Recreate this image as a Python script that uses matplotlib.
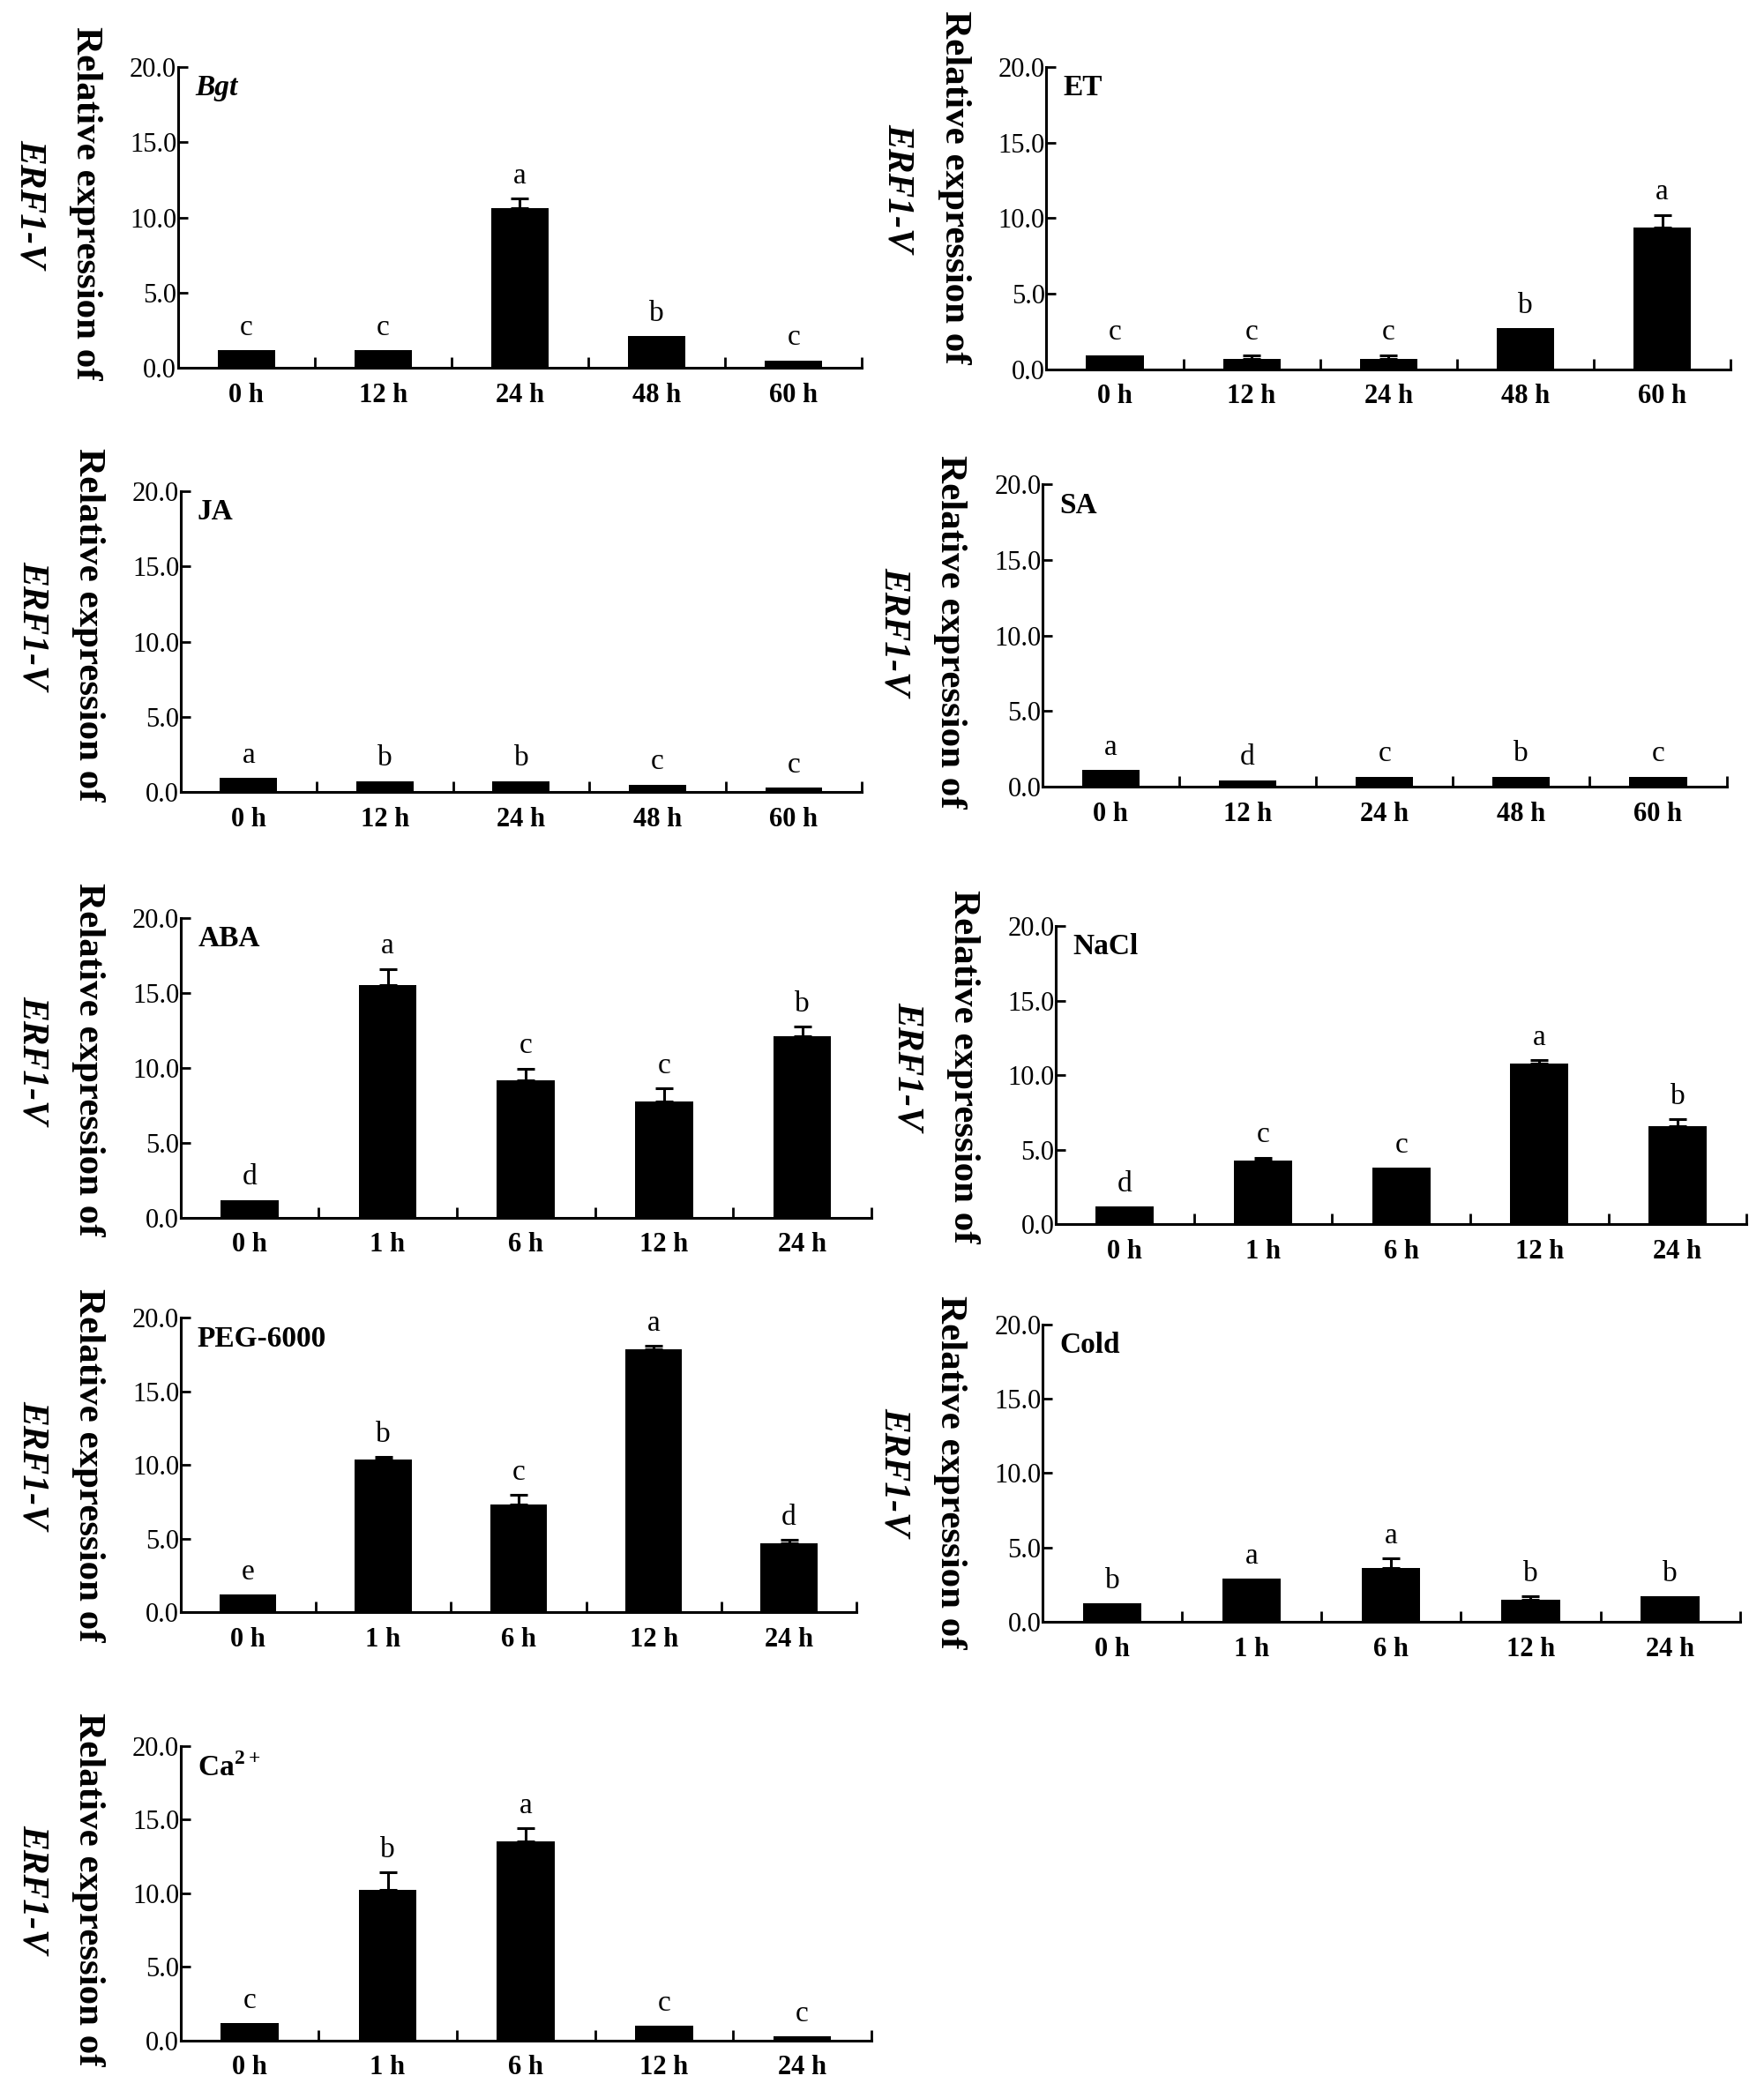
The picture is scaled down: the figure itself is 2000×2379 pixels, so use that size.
import matplotlib
matplotlib.use("Agg")
import matplotlib.pyplot as plt
import numpy as np

plt.rcParams["font.family"] = ["Liberation Serif", "DejaVu Serif"]
plt.rcParams["mathtext.fontset"] = "custom"
plt.rcParams["mathtext.rm"] = "Liberation Serif"
plt.rcParams["mathtext.bf"] = "Liberation Serif:bold"

## Data (relative expression of ERF1-V)
panel_names = ["Bgt", "ET", "JA", "SA", "ABA", "NaCl", "PEG-6000", "Cold", r"Ca$^{\mathbf{2+}}$"]

hours_long = ["0 h", "12 h", "24 h", "48 h", "60 h"]
hours_short = ["0 h", "1 h", "6 h", "12 h", "24 h"]

bgt_mean = [1.18, 1.18, 10.64, 2.10, 0.50]
bgt_err = [0.0, 0.0, 0.60, 0.0, 0.0]
bgt_sig = ["c", "c", "a", "b", "c"]

et_mean = [0.94, 0.68, 0.68, 2.73, 9.36]
et_err = [0.0, 0.26, 0.26, 0.0, 0.85]
et_sig = ["c", "c", "c", "b", "a"]

ja_mean = [0.96, 0.73, 0.73, 0.50, 0.29]
ja_err = [0.0, 0.0, 0.0, 0.0, 0.0]
ja_sig = ["a", "b", "b", "c", "c"]

sa_mean = [1.09, 0.44, 0.67, 0.67, 0.67]
sa_err = [0.0, 0.0, 0.0, 0.0, 0.0]
sa_sig = ["a", "d", "c", "b", "c"]

aba_mean = [1.18, 15.50, 9.15, 7.77, 12.10]
aba_err = [0.0, 1.10, 0.80, 0.87, 0.65]
aba_sig = ["d", "a", "c", "c", "b"]

nacl_mean = [1.21, 4.27, 3.80, 10.75, 6.58]
nacl_err = [0.0, 0.20, 0.0, 0.25, 0.48]
nacl_sig = ["d", "c", "c", "a", "b"]

peg_mean = [1.20, 10.37, 7.30, 17.90, 4.71]
peg_err = [0.0, 0.20, 0.66, 0.20, 0.24]
peg_sig = ["e", "b", "c", "a", "d"]

cold_mean = [1.26, 2.90, 3.60, 1.50, 1.70]
cold_err = [0.0, 0.0, 0.64, 0.20, 0.0]
cold_sig = ["b", "a", "a", "b", "b"]

ca_mean = [1.19, 10.24, 13.50, 0.99, 0.30]
ca_err = [0.0, 1.20, 0.90, 0.0, 0.0]
ca_sig = ["c", "b", "a", "c", "c"]

panels = [
    (panel_names[0], hours_long, bgt_mean, bgt_err, bgt_sig),
    (panel_names[1], hours_long, et_mean, et_err, et_sig),
    (panel_names[2], hours_long, ja_mean, ja_err, ja_sig),
    (panel_names[3], hours_long, sa_mean, sa_err, sa_sig),
    (panel_names[4], hours_short, aba_mean, aba_err, aba_sig),
    (panel_names[5], hours_short, nacl_mean, nacl_err, nacl_sig),
    (panel_names[6], hours_short, peg_mean, peg_err, peg_sig),
    (panel_names[7], hours_short, cold_mean, cold_err, cold_sig),
    (panel_names[8], hours_short, ca_mean, ca_err, ca_sig),
]

# axes boxes in reference pixel units: x0, x1, y_top, y_bottom, label centre y
W, H = 1320.0, 1568.0
boxes = [
    (133, 645, 50, 275, 152),
    (783, 1295, 50, 276, 140),
    (135, 645, 367, 592, 467),
    (780, 1292, 362, 588, 472),
    (135, 652, 686, 910, 792),
    (790, 1307, 692, 915, 797),
    (135, 641, 985, 1205, 1095),
    (780, 1302, 990, 1212, 1100),
    (135, 652, 1305, 1525, 1412),
]

fig = plt.figure(figsize=(20, 23.79), dpi=100)

for (name, hours, mean, err, sig), (x0, x1, yt, yb, ly) in zip(panels, boxes):
    ax = fig.add_axes([x0 / W, 1 - yb / H, (x1 - x0) / W, (yb - yt) / H])
    x = np.arange(len(mean))
    mean = np.array(mean)
    err = np.array(err)
    ax.bar(x, mean, width=0.42, color="black", zorder=2)
    has_err = err > 0
    if has_err.any():
        ax.errorbar(x[has_err], mean[has_err], yerr=[np.zeros(has_err.sum()), err[has_err]],
                    fmt="none", ecolor="black", elinewidth=2.2, capsize=7, capthick=2.2, zorder=3)
    for xi, m, e, s in zip(x, mean, err, sig):
        ax.text(xi, m + e + 0.6, s, ha="center", va="bottom", fontsize=24)

    ax.set_xlim(-0.5, len(mean) - 0.5)
    ax.set_ylim(0, 20)
    ax.set_yticks([0, 5, 10, 15, 20])
    ax.set_yticklabels(["0.0", "5.0", "10.0", "15.0", "20.0"], fontsize=22)
    ax.set_xticks(x)
    ax.set_xticklabels(hours, fontsize=22, fontweight="bold")
    ax.set_xticks(list(x[:-1] + 0.5) + [len(mean) - 0.5], minor=True)
    ax.tick_params(axis="x", which="major", length=0, pad=12)
    ax.tick_params(axis="x", which="minor", direction="in", length=9, width=2)
    ax.tick_params(axis="y", direction="in", length=8, width=2, pad=1)
    for side in ["top", "right"]:
        ax.spines[side].set_visible(False)
    for side in ["left", "bottom"]:
        ax.spines[side].set_linewidth(2.2)

    style = "italic" if name == "Bgt" else "normal"
    ax.text(0.025, 0.975, name, transform=ax.transAxes, ha="left", va="top",
            fontsize=24, fontweight="bold", fontstyle=style)

    # y label, two lines reading downwards
    fig.text((x0 - 69) / W, 1 - ly / H, "Relative expression of", rotation=270,
             ha="center", va="center", fontsize=31, fontweight="bold")
    fig.text((x0 - 111) / W, 1 - ly / H, "ERF1-V", rotation=270,
             ha="center", va="center", fontsize=30, fontweight="bold", fontstyle="italic")

fig.savefig("out.png", dpi=100, facecolor="white")
